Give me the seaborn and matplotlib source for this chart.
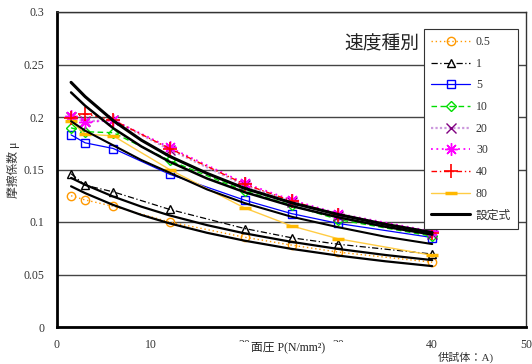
import matplotlib
matplotlib.use("Agg")
import matplotlib.pyplot as plt
import matplotlib.patches as mpatches
import seaborn as sns
import numpy as np

# ── data ────────────────────────────────────────
pressure = [1.5, 3, 6, 12, 20, 25, 30, 40]

mu_05 = [0.125, 0.121, 0.115, 0.100, 0.0855, 0.078, 0.0713, 0.0617]
mu_1  = [0.146, 0.135, 0.1287, 0.112, 0.0938, 0.085, 0.0788, 0.0695]
mu_5  = [0.183, 0.1754, 0.170, 0.1455, 0.1208, 0.108, 0.0986, 0.0852]
mu_10 = [0.1897, 0.186, 0.185, 0.1586, 0.1296, 0.116, 0.1023, 0.0864]
mu_20 = [0.200, 0.196, 0.197, 0.169, 0.135, 0.119, 0.106, 0.089]
mu_30 = [0.201, 0.195, 0.197, 0.171, 0.137, 0.121, 0.108, 0.091]
mu_40 = [0.199, 0.203, 0.197, 0.170, 0.136, 0.120, 0.107, 0.090]
mu_80 = [0.196, 0.1837, 0.182, 0.150, 0.1134, 0.0963, 0.084, 0.0683]

# fitted design curves (設定式), read at these pressures
curve_p = [1.5, 3, 6, 9, 12, 16, 20, 25, 30, 35, 40]
curve_a = [0.233, 0.2194, 0.1965, 0.1779, 0.1626, 0.1463, 0.1321, 0.1183, 0.1071, 0.0978, 0.0900]
curve_b = [0.2234, 0.2107, 0.1893, 0.1719, 0.1574, 0.1414, 0.1284, 0.1152, 0.1044, 0.0955, 0.0880]
curve_c = [0.196, 0.187, 0.173, 0.159, 0.147, 0.131, 0.118, 0.105, 0.095, 0.086, 0.079]
curve_d = [0.142, 0.1355, 0.1242, 0.1146, 0.1063, 0.0970, 0.0892, 0.0811, 0.0743, 0.0686, 0.0637]
curve_e = [0.134, 0.1275, 0.1162, 0.1067, 0.0987, 0.0897, 0.0822, 0.0744, 0.0680, 0.0626, 0.0580]

x_ticks = [0, 10, 20, 30, 40, 50]
y_ticks = [0, 0.05, 0.1, 0.15, 0.2, 0.25, 0.3]

# ── style ───────────────────────────────────────
sns.set_style("white")
plt.rcParams["font.family"] = ["Liberation Serif", "Noto Sans CJK JP", "DejaVu Sans"]
plt.rcParams["axes.unicode_minus"] = False

fig = plt.figure(figsize=(5.32, 3.64), dpi=100)
ax = fig.add_axes([57 / 532, 1 - 327 / 364, (526 - 57) / 532, (327 - 12) / 364])

series = [
    ("0.5", mu_05, dict(color="#FF9900", ls=(0, (1, 2)), lw=1.0, marker="o",
                        mfc="none", mec="#FF9900", ms=6, mew=1.0)),
    ("1",   mu_1,  dict(color="black", ls=(0, (5, 2, 1, 2)), lw=0.9, marker="^",
                        mfc="none", mec="black", ms=6, mew=1.0)),
    ("5",   mu_5,  dict(color="#0000FF", ls="-", lw=0.9, marker="s",
                        mfc="none", mec="#0000FF", ms=6, mew=1.0)),
    ("10",  mu_10, dict(color="#00DD00", ls=(0, (4, 2.5)), lw=1.0, marker="D",
                        mfc="none", mec="#00DD00", ms=5, mew=1.0)),
    ("20",  mu_20, dict(color="#CC99DD", ls=(0, (1, 1)), lw=1.6, marker="x",
                        mec="#800080", ms=7, mew=1.0)),
    ("30",  mu_30, dict(color="#FF00FF", ls=(0, (1, 2)), lw=1.3, marker=(8, 2, 0),
                        mec="#FF00FF", ms=9, mew=1.0)),
    ("40",  mu_40, dict(color="#FF0000", ls=(0, (4, 2, 1, 2)), lw=1.0, marker="+",
                        mec="#FF0000", ms=10, mew=1.2)),
    ("80",  mu_80, dict(color="#FFCC44", ls="-", lw=1.0, marker="_",
                        mec="#FFB800", ms=9, mew=2.5)),
]

for name, vals, kw in series:
    sns.lineplot(x=pressure, y=vals, ax=ax, label=name, sort=False, zorder=3, **kw)

for i, (vals, lw) in enumerate([(curve_a, 2.2), (curve_b, 1.8), (curve_c, 1.5),
                                (curve_d, 1.6), (curve_e, 1.6)]):
    sns.lineplot(x=curve_p, y=vals, ax=ax, color="black", lw=lw, zorder=4,
                 label="設定式" if i == 0 else None, sort=False)

# ── axes ────────────────────────────────────────
ax.set_xlim(0, 50)
ax.set_ylim(0, 0.3)
ax.set_xticks(x_ticks)
ax.set_yticks(y_ticks)
ax.set_xticklabels([str(t) for t in x_ticks], fontsize=8.5, color="#333333")
ax.set_yticklabels([f"{t:g}" for t in y_ticks], fontsize=8.5, color="#333333")
ax.tick_params(direction="in", length=4, width=1, pad=9, colors="black",
               labelcolor="#333333")
ax.grid(axis="y", color="#444444", lw=1.0)
ax.set_axisbelow(True)
for side in ["left", "bottom"]:
    ax.spines[side].set_linewidth(2.0)
    ax.spines[side].set_color("black")
for side in ["top", "right"]:
    ax.spines[side].set_linewidth(1.0)
    ax.spines[side].set_color("#333333")
    ax.spines[side].set_visible(True)

ax.set_xlabel("")
ax.set_ylabel("摩擦係数 μ", fontsize=8.5, color="#333333")
ax.yaxis.set_label_coords(-0.078, 0.5)

ax.text(0.772, 0.895, "速度種別", transform=ax.transAxes, ha="right", va="center",
        fontsize=13.5, color="#222222")

leg = ax.legend(loc="upper left", bbox_to_anchor=((424 - 57) / 469, (327 - 29) / 315),
                borderaxespad=0, fontsize=8.5, frameon=True, fancybox=False,
                handlelength=3.3, labelspacing=0.82, borderpad=0.6,
                handletextpad=0.5, framealpha=1)
leg.get_frame().set_edgecolor("#333333")
leg.get_frame().set_linewidth(0.8)
for t in leg.get_texts():
    t.set_color("#333333")

# white box behind the x label, covering the lower half of some tick labels
fig.add_artist(mpatches.Rectangle((236 / 532, 1 - 355 / 364), 110 / 532, 13 / 364,
                                  transform=fig.transFigure, facecolor="white",
                                  edgecolor="none", zorder=5))
fig.text(288 / 532, 1 - 347 / 364, "面圧 P(N/mm²)", ha="center", va="center",
         fontsize=8.5, color="#222222", zorder=6)
fig.text(438 / 532, 1 - 363 / 364, "供試体：A)", ha="left", va="bottom",
         fontsize=8, color="#333333", zorder=6)

fig.savefig("out.png", dpi=100)
